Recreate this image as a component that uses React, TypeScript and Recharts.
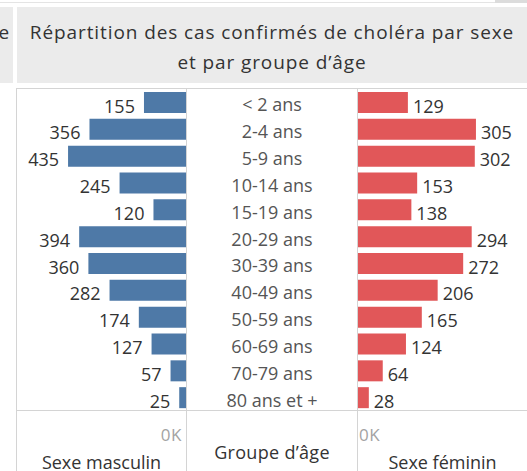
import { BarChart, Bar, XAxis, YAxis, LabelList } from "recharts";

const ageGroups = ["< 2 ans", "2-4 ans", "5-9 ans", "10-14 ans", "15-19 ans", "20-29 ans", "30-39 ans", "40-49 ans", "50-59 ans", "60-69 ans", "70-79 ans", "80 ans et +"];
const maleCases = [155, 356, 435, 245, 120, 394, 360, 282, 174, 127, 57, 25];
const femaleCases = [129, 305, 302, 153, 138, 294, 272, 206, 165, 124, 64, 28];

const rows = ageGroups.map((g, i) => ({ group: g, male: maleCases[i], female: femaleCases[i] }));

const FONT = "'Open Sans', sans-serif";
const BORDER = "#d4d4d4";

const valueLabel = (side: "left" | "right") => (p: any) => {
  const x0 = Math.min(p.x, p.x + p.width);
  const x1 = Math.max(p.x, p.x + p.width);
  const tx = side === "left" ? x0 - 9 : x1 + 5;
  return (
    <text x={tx} y={p.y + p.height / 2 + 3} textAnchor={side === "left" ? "end" : "start"}
      dominantBaseline="central" fontSize={18} fill="#333" fontFamily={FONT}>
      {p.value}
    </text>
  );
};

const zeroTick = (side: "left" | "right") => (p: any) => (
  <text x={side === "left" ? p.x - 4 : p.x + 1} y={p.y + 23} textAnchor={side === "left" ? "end" : "start"}
    dominantBaseline="central" fontSize={17} letterSpacing={0.5} fill="#a3a3a3" fontFamily={FONT}>0K</text>
);

const groupTick = (p: any) => (
  <text x={p.x - 86} y={p.y + 2} textAnchor="middle" dominantBaseline="central"
    fontSize={18} fill="#555" fontFamily={FONT}>{p.payload.value}</text>
);

export default function App() {
  return (
    <div style={{ position: "fixed", left: 0, top: 0, width: 527, height: 471, background: "#fff", overflow: "hidden", fontFamily: FONT, color: "#333" }}>
      {/* top strip */}
      <div style={{ position: "absolute", left: 0, top: 2, width: 495, height: 1, background: "#e4e4e4" }} />
      <div style={{ position: "absolute", left: 495, top: 0, width: 32, height: 3, background: "#dcdcdc" }} />
      {/* neighbouring title cut off */}
      <div style={{ position: "absolute", left: 0, top: 7, width: 13, height: 76, background: "#ebebeb", overflow: "hidden" }}>
        <div style={{ position: "absolute", right: 3, top: 11, fontSize: 19, lineHeight: "29px", whiteSpace: "nowrap", letterSpacing: 0.9 }}>sexe</div>
      </div>
      {/* title */}
      <div style={{ position: "absolute", left: 17, top: 7, width: 510, height: 76, background: "#ebebeb", textAlign: "center", fontSize: 19, lineHeight: "30px", letterSpacing: 0.9, paddingTop: 10, boxSizing: "border-box", color: "#333", whiteSpace: "nowrap" }}>
        Répartition des cas confirmés de choléra par sexe<br />et par groupe d’âge
      </div>
      {/* frame */}
      <div style={{ position: "absolute", left: 16, top: 88, width: 511, height: 1, background: BORDER }} />
      <div style={{ position: "absolute", left: 16, top: 410, width: 511, height: 1, background: BORDER }} />
      <div style={{ position: "absolute", left: 16, top: 88, width: 1, height: 383, background: BORDER }} />
      <div style={{ position: "absolute", left: 186, top: 88, width: 1, height: 383, background: BORDER }} />
      <div style={{ position: "absolute", left: 357, top: 88, width: 1, height: 383, background: BORDER }} />

      <div style={{ position: "absolute", left: 16, top: 89 }}>
        <BarChart width={170} height={382} data={rows} layout="vertical" margin={{ top: 0, right: 0, bottom: 0, left: 0 }}>
          <XAxis type="number" domain={[0, 627]} reversed ticks={[0]} height={60} axisLine={false} tickLine={false}
            tickSize={0} tickMargin={0} tick={zeroTick("left")} interval={0} />
          <YAxis type="category" dataKey="group" hide />
          <Bar dataKey="male" fill="#4e79a7" barSize={21} isAnimationActive={false}>
            <LabelList dataKey="male" content={valueLabel("left")} />
          </Bar>
        </BarChart>
      </div>

      <div style={{ position: "absolute", left: 186, top: 89 }}>
        <BarChart width={341} height={382} data={rows} layout="vertical" margin={{ top: 0, right: 0, bottom: 0, left: 0 }}>
          <XAxis type="number" domain={[0, 437]} ticks={[0]} height={60} axisLine={false} tickLine={false}
            tickSize={0} tickMargin={0} tick={zeroTick("right")} interval={0} />
          <YAxis type="category" dataKey="group" width={172} axisLine={false} tickLine={false}
            tickSize={0} tickMargin={0} tick={groupTick} interval={0} />
          <Bar dataKey="female" fill="#e15759" barSize={21} isAnimationActive={false}>
            <LabelList dataKey="female" content={valueLabel("right")} />
          </Bar>
        </BarChart>
      </div>

      {/* axis titles */}
      <div style={{ position: "absolute", left: 17, width: 169, top: 449, textAlign: "center", fontSize: 18, lineHeight: "26px" }}>Sexe masculin</div>
      <div style={{ position: "absolute", left: 187, width: 170, top: 439, textAlign: "center", fontSize: 18, lineHeight: "26px", letterSpacing: 0.3 }}>Groupe d’âge</div>
      <div style={{ position: "absolute", left: 358, width: 169, top: 449, textAlign: "center", fontSize: 18, lineHeight: "26px" }}>Sexe féminin</div>
    </div>
  );
}
